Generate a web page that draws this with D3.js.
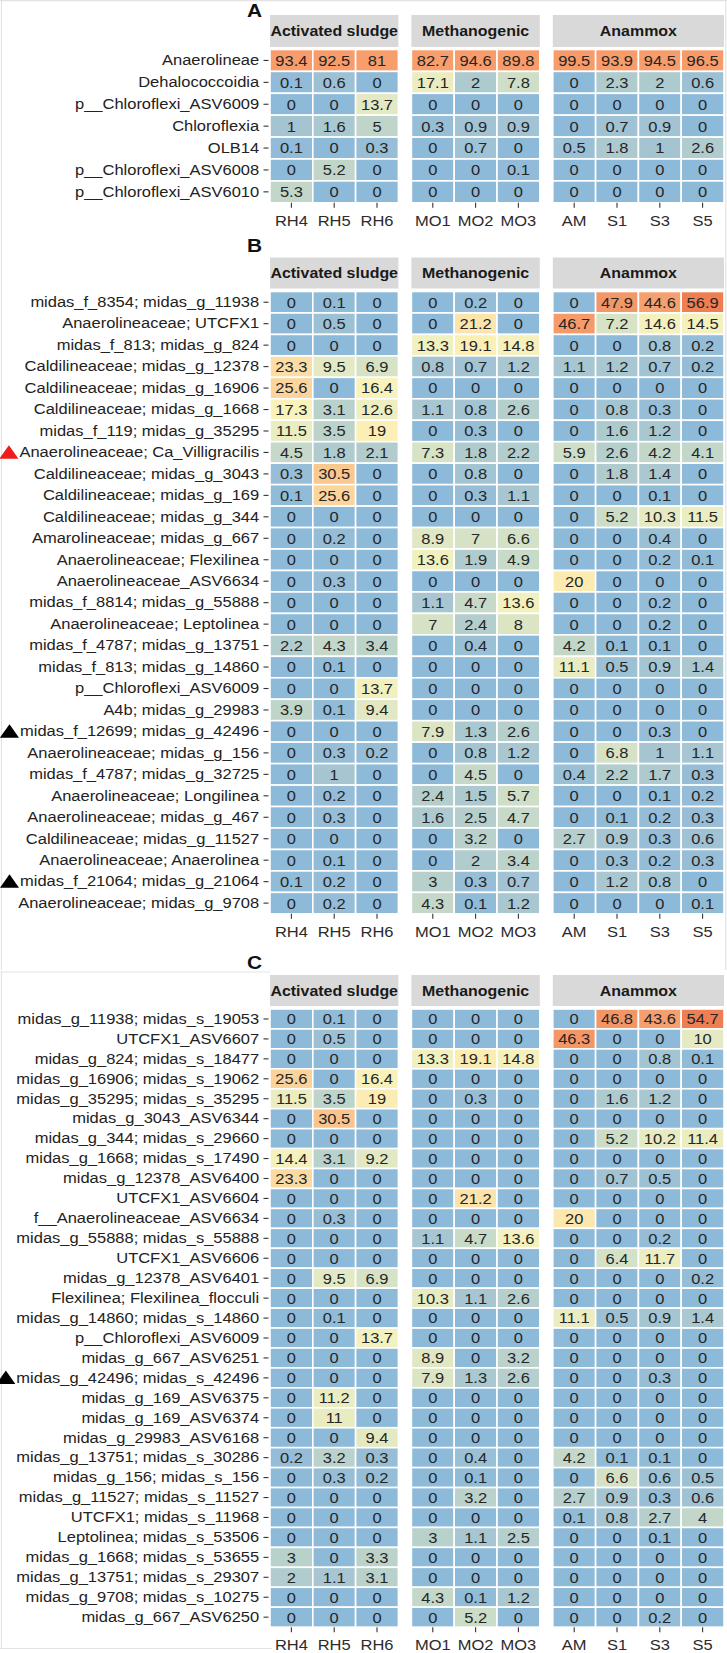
<!DOCTYPE html>
<html><head><meta charset="utf-8">
<script src="https://cdn.jsdelivr.net/npm/d3@7"></script>
<style>
body{margin:0;background:#fff}
svg{display:block}
text{font-family:"Liberation Sans",Arial,Helvetica,sans-serif}
</style>
</head><body>
<svg id="chart" width="727" height="1653"></svg>
<script>
// ---------------- DATA ----------------
const samples = ["RH4","RH5","RH6","MO1","MO2","MO3","AM","S1","S3","S5"];
const groupNames = ["Activated sludge","Methanogenic","Anammox"];
const groupSamples = [["RH4","RH5","RH6"],["MO1","MO2","MO3"],["AM","S1","S3","S5"]];

const rowsA = ["Anaerolineae","Dehalococcoidia","p__Chloroflexi_ASV6009","Chloroflexia","OLB14","p__Chloroflexi_ASV6008","p__Chloroflexi_ASV6010"];
const valsA = [
  [93.4,92.5,81,82.7,94.6,89.8,99.5,93.9,94.5,96.5],
  [0.1,0.6,0,17.1,2,7.8,0,2.3,2,0.6],
  [0,0,13.7,0,0,0,0,0,0,0],
  [1,1.6,5,0.3,0.9,0.9,0,0.7,0.9,0],
  [0.1,0,0.3,0,0.7,0,0.5,1.8,1,2.6],
  [0,5.2,0,0,0,0.1,0,0,0,0],
  [5.3,0,0,0,0,0,0,0,0,0]
];

const rowsB = ["midas_f_8354; midas_g_11938","Anaerolineaceae; UTCFX1","midas_f_813; midas_g_824",
  "Caldilineaceae; midas_g_12378","Caldilineaceae; midas_g_16906","Caldilineaceae; midas_g_1668",
  "midas_f_119; midas_g_35295","Anaerolineaceae; Ca_Villigracilis","Caldilineaceae; midas_g_3043",
  "Caldilineaceae; midas_g_169","Caldilineaceae; midas_g_344","Amarolineaceae; midas_g_667",
  "Anaerolineaceae; Flexilinea","Anaerolineaceae_ASV6634","midas_f_8814; midas_g_55888",
  "Anaerolineaceae; Leptolinea","midas_f_4787; midas_g_13751","midas_f_813; midas_g_14860",
  "p__Chloroflexi_ASV6009","A4b; midas_g_29983","midas_f_12699; midas_g_42496",
  "Anaerolineaceae; midas_g_156","midas_f_4787; midas_g_32725","Anaerolineaceae; Longilinea",
  "Anaerolineaceae; midas_g_467","Caldilineaceae; midas_g_11527","Anaerolineaceae; Anaerolinea",
  "midas_f_21064; midas_g_21064","Anaerolineaceae; midas_g_9708"];
const valsB = [
  [0,0.1,0,0,0.2,0,0,47.9,44.6,56.9],
  [0,0.5,0,0,21.2,0,46.7,7.2,14.6,14.5],
  [0,0,0,13.3,19.1,14.8,0,0,0.8,0.2],
  [23.3,9.5,6.9,0.8,0.7,1.2,1.1,1.2,0.7,0.2],
  [25.6,0,16.4,0,0,0,0,0,0,0],
  [17.3,3.1,12.6,1.1,0.8,2.6,0,0.8,0.3,0],
  [11.5,3.5,19,0,0.3,0,0,1.6,1.2,0],
  [4.5,1.8,2.1,7.3,1.8,2.2,5.9,2.6,4.2,4.1],
  [0.3,30.5,0,0,0.8,0,0,1.8,1.4,0],
  [0.1,25.6,0,0,0.3,1.1,0,0,0.1,0],
  [0,0,0,0,0,0,0,5.2,10.3,11.5],
  [0,0.2,0,8.9,7,6.6,0,0,0.4,0],
  [0,0,0,13.6,1.9,4.9,0,0,0.2,0.1],
  [0,0.3,0,0,0,0,20,0,0,0],
  [0,0,0,1.1,4.7,13.6,0,0,0.2,0],
  [0,0,0,7,2.4,8,0,0,0.2,0],
  [2.2,4.3,3.4,0,0.4,0,4.2,0.1,0.1,0],
  [0,0.1,0,0,0,0,11.1,0.5,0.9,1.4],
  [0,0,13.7,0,0,0,0,0,0,0],
  [3.9,0.1,9.4,0,0,0,0,0,0,0],
  [0,0,0,7.9,1.3,2.6,0,0,0.3,0],
  [0,0.3,0.2,0,0.8,1.2,0,6.8,1,1.1],
  [0,1,0,0,4.5,0,0.4,2.2,1.7,0.3],
  [0,0.2,0,2.4,1.5,5.7,0,0,0.1,0.2],
  [0,0.3,0,1.6,2.5,4.7,0,0.1,0.2,0.3],
  [0,0,0,0,3.2,0,2.7,0.9,0.3,0.6],
  [0,0.1,0,0,2,3.4,0,0.3,0.2,0.3],
  [0.1,0.2,0,3,0.3,0.7,0,1.2,0.8,0],
  [0,0.2,0,4.3,0.1,1.2,0,0,0,0.1]
];

const rowsC = ["midas_g_11938; midas_s_19053","UTCFX1_ASV6607","midas_g_824; midas_s_18477",
  "midas_g_16906; midas_s_19062","midas_g_35295; midas_s_35295","midas_g_3043_ASV6344",
  "midas_g_344; midas_s_29660","midas_g_1668; midas_s_17490","midas_g_12378_ASV6400",
  "UTCFX1_ASV6604","f__Anaerolineaceae_ASV6634","midas_g_55888; midas_s_55888",
  "UTCFX1_ASV6606","midas_g_12378_ASV6401","Flexilinea; Flexilinea_flocculi",
  "midas_g_14860; midas_s_14860","p__Chloroflexi_ASV6009","midas_g_667_ASV6251",
  "midas_g_42496; midas_s_42496","midas_g_169_ASV6375","midas_g_169_ASV6374",
  "midas_g_29983_ASV6168","midas_g_13751; midas_s_30286","midas_g_156; midas_s_156",
  "midas_g_11527; midas_s_11527","UTCFX1; midas_s_11968","Leptolinea; midas_s_53506",
  "midas_g_1668; midas_s_53655","midas_g_13751; midas_s_29307","midas_g_9708; midas_s_10275",
  "midas_g_667_ASV6250"];
const valsC = [
  [0,0.1,0,0,0,0,0,46.8,43.6,54.7],
  [0,0.5,0,0,0,0,46.3,0,0,10],
  [0,0,0,13.3,19.1,14.8,0,0,0.8,0.1],
  [25.6,0,16.4,0,0,0,0,0,0,0],
  [11.5,3.5,19,0,0.3,0,0,1.6,1.2,0],
  [0,30.5,0,0,0,0,0,0,0,0],
  [0,0,0,0,0,0,0,5.2,10.2,11.4],
  [14.4,3.1,9.2,0,0,0,0,0,0,0],
  [23.3,0,0,0,0,0,0,0.7,0.5,0],
  [0,0,0,0,21.2,0,0,0,0,0],
  [0,0.3,0,0,0,0,20,0,0,0],
  [0,0,0,1.1,4.7,13.6,0,0,0.2,0],
  [0,0,0,0,0,0,0,6.4,11.7,0],
  [0,9.5,6.9,0,0,0,0,0,0,0.2],
  [0,0,0,10.3,1.1,2.6,0,0,0,0],
  [0,0.1,0,0,0,0,11.1,0.5,0.9,1.4],
  [0,0,13.7,0,0,0,0,0,0,0],
  [0,0,0,8.9,0,3.2,0,0,0,0],
  [0,0,0,7.9,1.3,2.6,0,0,0.3,0],
  [0,11.2,0,0,0,0,0,0,0,0],
  [0,11,0,0,0,0,0,0,0,0],
  [0,0,9.4,0,0,0,0,0,0,0],
  [0.2,3.2,0.3,0,0.4,0,4.2,0.1,0.1,0],
  [0,0.3,0.2,0,0.1,0,0,6.6,0.6,0.5],
  [0,0,0,0,3.2,0,2.7,0.9,0.3,0.6],
  [0,0,0,0,0,0,0.1,0.8,2.7,4],
  [0,0,0,3,1.1,2.5,0,0,0.1,0],
  [3,0,3.3,0,0,0,0,0,0,0],
  [2,1.1,3.1,0,0,0,0,0,0,0],
  [0,0,0,4.3,0.1,1.2,0,0,0,0],
  [0,0,0,0,5.2,0,0,0,0.2,0]
];

const redMarkedB = ["Anaerolineaceae; Ca_Villigracilis"];
const blackMarkedB = ["midas_f_12699; midas_g_42496","midas_f_21064; midas_g_21064"];
const blackMarkedC = ["midas_g_42496; midas_s_42496"];

// ---------------- STYLE / LAYOUT ----------------
const SX = 1.1;            // horizontal text stretch of the original figure
const X0 = 270, COLW = 42.8, GAP = 13;
const colorStops = [0, 0.15, 0.35, 0.52, 0.67, 0.73, 0.80, 0.87, 0.95, 1.0];
const colorsBC = ["#8ebad9","#a4c4d2","#b9d1cb","#d7e3c5","#f3f1bf","#fbf2b8","#fbd8a0","#f8c089","#f59c6c","#ef7f52"];
const colorsA  = ["#8ebad9","#a4c4d2","#b9d1cb","#d7e3c5","#f3f1bf","#fbf2b8","#fbd8a0","#f8c089","#f89e6d","#f89b6a"];

const svg = d3.select("#chart");

// faint frame lines of the composed figure
const frame = svg.append("g").attr("stroke","#e3e3e3").attr("stroke-width",1.2).attr("fill","none");
frame.append("path").attr("d","M0,0.6H727 M1.5,0V970 M725.8,0V970 M0,972H270 M1.5,972V1648 M0,1648.5H272");

function groupRange(gi){
  let x = X0;
  for(let i=0;i<gi;i++) x += groupSamples[i].length*COLW + GAP;
  return [x, x + groupSamples[gi].length*COLW];
}

function drawPanel(cfg, rows, vals, redList, blackList, colors){
  const g = svg.append("g");
  const maxV = d3.max(vals.flat());
  const tScale = d3.scaleLinear().domain([0, Math.log1p(maxV)]).range([0,1]);
  const color = d3.scaleLinear().domain(colorStops).range(colors).clamp(true);
  const fill = v => color(tScale(Math.log1p(v)));

  const y = d3.scaleBand().domain(rows).range([cfg.rowTop, cfg.rowTop + rows.length*cfg.pitch]).padding(0);
  const yBottom = cfg.rowTop + rows.length*cfg.pitch;

  // title
  g.append("text").attr("x",247).attr("y",cfg.titleY)
    .attr("font-size",19).attr("font-weight","bold").attr("fill","#111")
    .attr("transform",`translate(${247*(1-SX)},0) scale(${SX},1)`)
    .text(cfg.title);

  groupSamples.forEach((gs, gi) => {
    const [gx0, gx1] = groupRange(gi);
    const x = d3.scaleBand().domain(gs).range([gx0, gx1]).padding(0);

    // strip
    g.append("rect").attr("x",gx0).attr("y",cfg.stripY).attr("width",gx1-gx0).attr("height",cfg.stripH)
      .attr("fill","#d9d9d9");
    g.append("text")
      .attr("transform",`translate(${(gx0+gx1)/2},${cfg.stripY+cfg.stripH/2}) scale(${SX},1)`)
      .attr("text-anchor","middle").attr("dy","0.35em")
      .attr("font-size",14.5).attr("font-weight","bold").attr("fill","#1a1a1a")
      .text(groupNames[gi]);

    // tiles
    const cells = [];
    rows.forEach((r, ri) => gs.forEach(s => cells.push({r, s, v: vals[ri][samples.indexOf(s)]})));
    g.append("g").selectAll("rect").data(cells).join("rect")
      .attr("x", d => x(d.s)).attr("y", d => y(d.r))
      .attr("width", x.bandwidth()).attr("height", y.bandwidth())
      .attr("fill", d => fill(d.v))
      .attr("stroke","#fff").attr("stroke-width",1.6);
    g.append("g").selectAll("text").data(cells).join("text")
      .attr("transform", d => `translate(${x(d.s)+x.bandwidth()/2},${y(d.r)+y.bandwidth()/2}) scale(${SX},1)`)
      .attr("text-anchor","middle").attr("dy","0.36em")
      .attr("font-size",15).attr("fill","#262626")
      .text(d => String(d.v));

    // x axis
    const xa = g.append("g").attr("transform",`translate(0,${yBottom})`)
      .call(d3.axisBottom(x).tickSize(5).tickSizeOuter(0).tickPadding(7.5));
    xa.select(".domain").remove();
    xa.selectAll(".tick line").attr("stroke","#333").attr("stroke-width",1.1);
    xa.selectAll(".tick text").attr("font-size",15).attr("fill","#2b2b2b")
      .attr("font-family",'"Liberation Sans",Arial,sans-serif')
      .attr("transform",`scale(${SX},1)`);
  });

  // y axis
  const ya = g.append("g").attr("transform",`translate(${X0-1.5},0)`)
    .call(d3.axisLeft(y).tickSize(5).tickSizeOuter(0).tickPadding(3.5));
  ya.select(".domain").remove();
  ya.selectAll(".tick line").attr("stroke","#333").attr("stroke-width",1.1);
  ya.selectAll(".tick text").attr("font-size",15).attr("fill","#222")
    .attr("font-family",'"Liberation Sans",Arial,sans-serif')
    .attr("transform",`scale(${SX},1)`);

  // triangle markers
  ya.selectAll(".tick").each(function(d){
    const isRed = redList.includes(d), isBlack = blackList.includes(d);
    if(!isRed && !isBlack) return;
    const t = d3.select(this).select("text").node();
    const bb = t.getBBox();
    const left = bb.x*SX - 1;
    d3.select(this).append("path")
      .attr("d", `M${left-19},6.2L${left},6.2L${left-9.5},-7.3Z`)
      .attr("fill", isRed ? "#ee1c1c" : "#000");
  });
}

drawPanel({title:"A", titleY:17, stripY:15, stripH:32, rowTop:49.5, pitch:21.9}, rowsA, valsA, [], [], colorsA);
drawPanel({title:"B", titleY:252, stripY:257.5, stripH:31, rowTop:291.5, pitch:21.46}, rowsB, valsB, redMarkedB, blackMarkedB, colorsBC);
drawPanel({title:"C", titleY:969, stripY:975, stripH:31, rowTop:1009, pitch:19.94}, rowsC, valsC, [], blackMarkedC, colorsBC);
</script>
</body></html>
